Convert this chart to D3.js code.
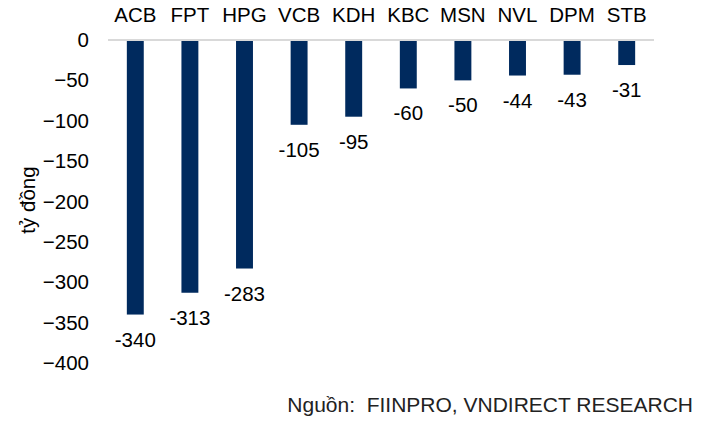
<!DOCTYPE html>
<html>
<head>
<meta charset="utf-8">
<script src="https://cdn.jsdelivr.net/npm/d3@7"></script>
<style>
  body { margin: 0; background: #fff; }
  text { font-family: "Liberation Sans", Arial, sans-serif; }
</style>
</head>
<body>
<svg id="chart" width="705" height="426"></svg>
<script>
// data
var tickers = ["ACB", "FPT", "HPG", "VCB", "KDH", "KBC", "MSN", "NVL", "DPM", "STB"];
var netValues = [-340, -313, -283, -105, -95, -60, -50, -44, -43, -31];
var yTicks = [0, -50, -100, -150, -200, -250, -300, -350, -400];

var svg = d3.select("#chart");
var margin = { top: 40, right: 51, bottom: 63, left: 108 },
    width = 705 - margin.left - margin.right,
    height = 426 - margin.top - margin.bottom;

var g = svg.append("g")
    .attr("transform", "translate(" + margin.left + "," + margin.top + ")");

var x = d3.scaleBand()
    .domain(tickers)
    .range([0, width])
    .paddingInner(0.69)
    .paddingOuter(0.345);

var y = d3.scaleLinear()
    .domain([0, -400])
    .range([0, height]);

// y axis, labels only
var yAxis = g.append("g")
    .call(d3.axisLeft(y).tickValues(yTicks).tickSize(0).tickPadding(19).tickFormat(d3.format("d")));
yAxis.select(".domain").remove();
yAxis.selectAll("text")
    .style("font-size", "20.5px")
    .attr("fill", "#000");

// category labels at the top
var xAxis = g.append("g")
    .call(d3.axisTop(x).tickSize(0).tickPadding(18));
xAxis.select(".domain").remove();
xAxis.selectAll("text")
    .style("font-size", "20.5px")
    .attr("fill", "#000");

// zero line
g.append("line")
    .attr("x1", 0).attr("x2", width)
    .attr("y1", y(0)).attr("y2", y(0))
    .attr("stroke", "#d9d9d9")
    .attr("stroke-width", 2);

var rows = tickers.map(function (t, i) { return { name: t, value: netValues[i] }; });

g.selectAll(".bar")
    .data(rows)
    .enter().append("rect")
    .attr("class", "bar")
    .attr("x", function (d) { return x(d.name); })
    .attr("y", y(0) + 1)
    .attr("width", x.bandwidth())
    .attr("height", function (d) { return y(d.value) - y(0) - 1; })
    .attr("fill", "#002a5e");

g.selectAll(".lbl")
    .data(rows)
    .enter().append("text")
    .attr("class", "lbl")
    .attr("x", function (d) { return x(d.name) + x.bandwidth() / 2; })
    .attr("y", function (d) { return y(d.value) + 32; })
    .attr("text-anchor", "middle")
    .style("font-size", "20.5px")
    .attr("fill", "#000")
    .text(function (d) { return d.value; });

// y title
svg.append("text")
    .attr("transform", "translate(35,200) rotate(-90)")
    .attr("text-anchor", "middle")
    .style("font-size", "20.5px")
    .attr("fill", "#000")
    .text("tỷ đồng");

// source
svg.append("text")
    .attr("x", 693)
    .attr("y", 412)
    .attr("text-anchor", "end")
    .style("font-size", "21px")
    .attr("fill", "#222")
    .attr("xml:space", "preserve")
    .style("white-space", "pre")
    .text("Nguồn:  FIINPRO, VNDIRECT RESEARCH");
</script>
</body>
</html>
